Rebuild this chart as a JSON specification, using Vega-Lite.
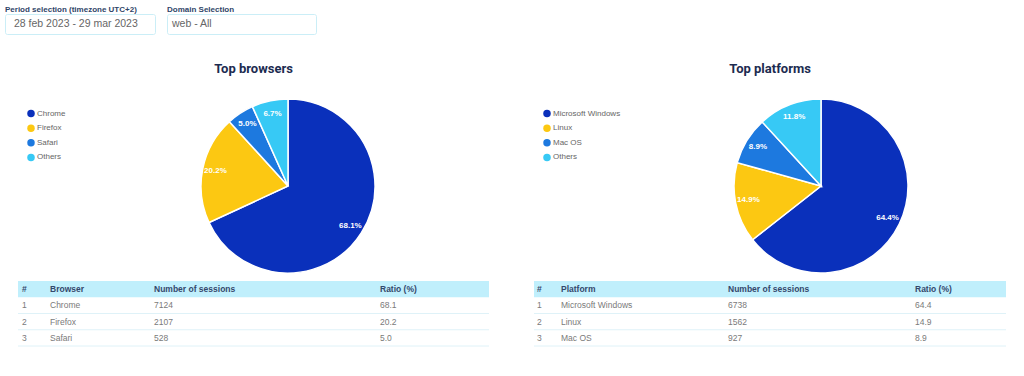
{
  "$schema": "https://vega.github.io/schema/vega-lite/v6.json",
  "background": "white",
  "padding": {"left": 4, "top": 5, "right": 0, "bottom": 0},
  "config": {
    "view": {"stroke": null},
    "font": "Liberation Sans",
    "title": {"font": "Liberation Sans"}
  },
  "resolve": {"scale": {"color": "independent"}, "legend": {"color": "independent"}},
  "datasets": {
    "filters": [
      {"filter": "Period selection (timezone UTC+2)", "value": "28 feb 2023 - 29 mar 2023"},
      {"filter": "Domain Selection", "value": "web - All"}
    ],
    "browsers": [
      {"browser": "Chrome", "sessions": 7124, "share": 0.681, "rank": 1},
      {"browser": "Firefox", "sessions": 2107, "share": 0.202, "rank": 2},
      {"browser": "Safari", "sessions": 528, "share": 0.050, "rank": 3},
      {"browser": "Others", "sessions": 702, "share": 0.067, "rank": 4}
    ],
    "platforms": [
      {"platform": "Microsoft Windows", "sessions": 6738, "share": 0.644, "rank": 1},
      {"platform": "Linux", "sessions": 1562, "share": 0.149, "rank": 2},
      {"platform": "Mac OS", "sessions": 927, "share": 0.089, "rank": 3},
      {"platform": "Others", "sessions": 1236, "share": 0.118, "rank": 4}
    ],
    "browserTable": [
      {"row": "h", "col": "#", "text": "#"},
      {"row": "h", "col": "name", "text": "Browser"},
      {"row": "h", "col": "sessions", "text": "Number of sessions"},
      {"row": "h", "col": "ratio", "text": "Ratio (%)"},
      {"row": "1", "col": "#", "text": "1"},
      {"row": "1", "col": "name", "text": "Chrome"},
      {"row": "1", "col": "sessions", "text": "7124"},
      {"row": "1", "col": "ratio", "text": "68.1"},
      {"row": "2", "col": "#", "text": "2"},
      {"row": "2", "col": "name", "text": "Firefox"},
      {"row": "2", "col": "sessions", "text": "2107"},
      {"row": "2", "col": "ratio", "text": "20.2"},
      {"row": "3", "col": "#", "text": "3"},
      {"row": "3", "col": "name", "text": "Safari"},
      {"row": "3", "col": "sessions", "text": "528"},
      {"row": "3", "col": "ratio", "text": "5.0"}
    ],
    "platformTable": [
      {"row": "h", "col": "#", "text": "#"},
      {"row": "h", "col": "name", "text": "Platform"},
      {"row": "h", "col": "sessions", "text": "Number of sessions"},
      {"row": "h", "col": "ratio", "text": "Ratio (%)"},
      {"row": "1", "col": "#", "text": "1"},
      {"row": "1", "col": "name", "text": "Microsoft Windows"},
      {"row": "1", "col": "sessions", "text": "6738"},
      {"row": "1", "col": "ratio", "text": "64.4"},
      {"row": "2", "col": "#", "text": "2"},
      {"row": "2", "col": "name", "text": "Linux"},
      {"row": "2", "col": "sessions", "text": "1562"},
      {"row": "2", "col": "ratio", "text": "14.9"},
      {"row": "3", "col": "#", "text": "3"},
      {"row": "3", "col": "name", "text": "Mac OS"},
      {"row": "3", "col": "sessions", "text": "927"},
      {"row": "3", "col": "ratio", "text": "8.9"}
    ]
  },
  "spacing": 28,
  "vconcat": [
    {
      "spacing": 10,
      "hconcat": [
        {
          "width": 150, "height": 20,
          "view": {"stroke": "#cbeef7", "cornerRadius": 2},
          "title": {"text": "Period selection (timezone UTC+2)", "anchor": "start", "fontSize": 8, "fontWeight": "bold", "color": "#2f4568", "offset": 0},
          "data": {"name": "filters"},
          "transform": [{"filter": "datum.filter === 'Period selection (timezone UTC+2)'"}],
          "mark": {"type": "text", "align": "left", "baseline": "middle", "dx": 9, "fontSize": 10.5, "color": "#666666"},
          "encoding": {
            "text": {"field": "value"},
            "x": {"datum": 0, "type": "quantitative", "scale": {"domain": [0, 1]}, "axis": null}
          }
        },
        {
          "width": 149, "height": 20,
          "view": {"stroke": "#cbeef7", "cornerRadius": 2},
          "title": {"text": "Domain Selection", "anchor": "start", "fontSize": 8, "fontWeight": "bold", "color": "#2f4568", "offset": 0},
          "data": {"name": "filters"},
          "transform": [{"filter": "datum.filter === 'Domain Selection'"}],
          "mark": {"type": "text", "align": "left", "baseline": "middle", "dx": 5, "fontSize": 10.5, "color": "#666666"},
          "encoding": {
            "text": {"field": "value"},
            "x": {"datum": 0, "type": "quantitative", "scale": {"domain": [0, 1]}, "axis": null}
          }
        }
      ]
    },
    {
      "spacing": 11,
      "resolve": {"scale": {"color": "independent"}, "legend": {"color": "independent"}},
      "hconcat": [
        {
          "width": 1, "height": 1,
          "data": {"values": []},
          "mark": {"type": "rule"},
          "encoding": {}
        },
        {
          "spacing": 43,
          "resolve": {"scale": {"color": "independent"}, "legend": {"color": "independent"}},
          "hconcat": [
            {
              "title": {"text": "Top browsers", "anchor": "middle", "font": "Roboto", "fontSize": 13, "fontWeight": "bold", "color": "#1c2b50", "offset": 20},
              "spacing": 5,
              "resolve": {"scale": {"color": "independent"}, "legend": {"color": "independent"}},
              "vconcat": [
                {
                  "spacing": 0,
                  "hconcat": [
                    {
                      "width": 180, "height": 73,
                      "data": {"name": "browsers"},
                      "encoding": {
                        "y": {"field": "browser", "type": "nominal", "scale": {"type": "point", "domain": ["Chrome", "Firefox", "Safari", "Others"], "padding": 1.165}, "axis": null},
                        "x": {"datum": 0, "type": "quantitative", "scale": {"domain": [0, 1]}, "axis": null}
                      },
                      "layer": [
                        {
                          "mark": {"type": "circle", "size": 56, "opacity": 1, "xOffset": 13},
                          "encoding": {"color": {"field": "browser", "type": "nominal", "scale": {"domain": ["Chrome", "Firefox", "Safari", "Others"], "range": ["#0a30bb", "#fcc812", "#1d79df", "#37c9f5"]}, "legend": null}}
                        },
                        {
                          "mark": {"type": "text", "align": "left", "baseline": "middle", "dx": 19, "fontSize": 8, "color": "#666666"},
                          "encoding": {"text": {"field": "browser"}}
                        }
                      ]
                    },
                    {
                      "width": 174, "height": 174,
                      "data": {"name": "browsers"},
                      "encoding": {
                        "theta": {"field": "sessions", "type": "quantitative", "stack": true},
                        "order": {"field": "rank", "type": "quantitative"},
                        "color": {
                          "field": "browser", "type": "nominal",
                          "scale": {"domain": ["Chrome", "Firefox", "Safari", "Others"], "range": ["#0a30bb", "#fcc812", "#1d79df", "#37c9f5"]},
                          "legend": null
                        }
                      },
                      "layer": [
                        {"mark": {"type": "arc", "stroke": "white", "strokeWidth": 1.5}},
                        {
                          "mark": {"type": "text", "radius": 74, "fontSize": 8, "fontWeight": "bold"},
                          "encoding": {"text": {"field": "share", "type": "quantitative", "format": ".1%"}, "color": {"value": "white"}}
                        }
                      ]
                    }
                  ]
                },
                {
                  "spacing": 0,
                  "bounds": "flush",
                  "hconcat": [
                    {
                      "width": 28, "height": 65,
                      "data": {"name": "browserTable"},
                      "transform": [{"filter": "datum.col === '#'"}],
                      "encoding": {"y": {"field": "row", "type": "nominal", "scale": {"domain": ["h", "1", "2", "3"], "paddingInner": 0, "paddingOuter": 0}, "axis": null}},
                      "layer": [
                        {"transform": [{"filter": "datum.row === 'h'"}], "mark": {"type": "rect", "fill": "#c0effc"}},
                        {"transform": [{"filter": "datum.row !== 'h'"}], "mark": {"type": "rule", "color": "#dff2f8"}, "encoding": {"y": {"field": "row", "type": "nominal", "bandPosition": 1}}},
                        {"transform": [{"filter": "datum.row === 'h'"}], "mark": {"type": "text", "align": "left", "baseline": "middle", "dx": 4, "fontSize": 8.5, "fontWeight": "bold", "color": "#34486c"}, "encoding": {"text": {"field": "text"}, "x": {"datum": 0, "type": "quantitative", "scale": {"domain": [0, 1]}, "axis": null}}},
                        {"transform": [{"filter": "datum.row !== 'h'"}], "mark": {"type": "text", "align": "left", "baseline": "middle", "dx": 4, "fontSize": 8.5, "color": "#7a7a7a"}, "encoding": {"text": {"field": "text"}, "x": {"datum": 0, "type": "quantitative", "scale": {"domain": [0, 1]}, "axis": null}}}
                      ]
                    },
                    {
                      "width": 104, "height": 65,
                      "data": {"name": "browserTable"},
                      "transform": [{"filter": "datum.col === 'name'"}],
                      "encoding": {"y": {"field": "row", "type": "nominal", "scale": {"domain": ["h", "1", "2", "3"], "paddingInner": 0, "paddingOuter": 0}, "axis": null}},
                      "layer": [
                        {"transform": [{"filter": "datum.row === 'h'"}], "mark": {"type": "rect", "fill": "#c0effc"}},
                        {"transform": [{"filter": "datum.row !== 'h'"}], "mark": {"type": "rule", "color": "#dff2f8"}, "encoding": {"y": {"field": "row", "type": "nominal", "bandPosition": 1}}},
                        {"transform": [{"filter": "datum.row === 'h'"}], "mark": {"type": "text", "align": "left", "baseline": "middle", "dx": 4, "fontSize": 8.5, "fontWeight": "bold", "color": "#34486c"}, "encoding": {"text": {"field": "text"}, "x": {"datum": 0, "type": "quantitative", "scale": {"domain": [0, 1]}, "axis": null}}},
                        {"transform": [{"filter": "datum.row !== 'h'"}], "mark": {"type": "text", "align": "left", "baseline": "middle", "dx": 4, "fontSize": 8.5, "color": "#7a7a7a"}, "encoding": {"text": {"field": "text"}, "x": {"datum": 0, "type": "quantitative", "scale": {"domain": [0, 1]}, "axis": null}}}
                      ]
                    },
                    {
                      "width": 226, "height": 65,
                      "data": {"name": "browserTable"},
                      "transform": [{"filter": "datum.col === 'sessions'"}],
                      "encoding": {"y": {"field": "row", "type": "nominal", "scale": {"domain": ["h", "1", "2", "3"], "paddingInner": 0, "paddingOuter": 0}, "axis": null}},
                      "layer": [
                        {"transform": [{"filter": "datum.row === 'h'"}], "mark": {"type": "rect", "fill": "#c0effc"}},
                        {"transform": [{"filter": "datum.row !== 'h'"}], "mark": {"type": "rule", "color": "#dff2f8"}, "encoding": {"y": {"field": "row", "type": "nominal", "bandPosition": 1}}},
                        {"transform": [{"filter": "datum.row === 'h'"}], "mark": {"type": "text", "align": "left", "baseline": "middle", "dx": 4, "fontSize": 8.5, "fontWeight": "bold", "color": "#34486c"}, "encoding": {"text": {"field": "text"}, "x": {"datum": 0, "type": "quantitative", "scale": {"domain": [0, 1]}, "axis": null}}},
                        {"transform": [{"filter": "datum.row !== 'h'"}], "mark": {"type": "text", "align": "left", "baseline": "middle", "dx": 4, "fontSize": 8.5, "color": "#7a7a7a"}, "encoding": {"text": {"field": "text"}, "x": {"datum": 0, "type": "quantitative", "scale": {"domain": [0, 1]}, "axis": null}}}
                      ]
                    },
                    {
                      "width": 113, "height": 65,
                      "data": {"name": "browserTable"},
                      "transform": [{"filter": "datum.col === 'ratio'"}],
                      "encoding": {"y": {"field": "row", "type": "nominal", "scale": {"domain": ["h", "1", "2", "3"], "paddingInner": 0, "paddingOuter": 0}, "axis": null}},
                      "layer": [
                        {"transform": [{"filter": "datum.row === 'h'"}], "mark": {"type": "rect", "fill": "#c0effc"}},
                        {"transform": [{"filter": "datum.row !== 'h'"}], "mark": {"type": "rule", "color": "#dff2f8"}, "encoding": {"y": {"field": "row", "type": "nominal", "bandPosition": 1}}},
                        {"transform": [{"filter": "datum.row === 'h'"}], "mark": {"type": "text", "align": "left", "baseline": "middle", "dx": 4, "fontSize": 8.5, "fontWeight": "bold", "color": "#34486c"}, "encoding": {"text": {"field": "text"}, "x": {"datum": 0, "type": "quantitative", "scale": {"domain": [0, 1]}, "axis": null}}},
                        {"transform": [{"filter": "datum.row !== 'h'"}], "mark": {"type": "text", "align": "left", "baseline": "middle", "dx": 4, "fontSize": 8.5, "color": "#7a7a7a"}, "encoding": {"text": {"field": "text"}, "x": {"datum": 0, "type": "quantitative", "scale": {"domain": [0, 1]}, "axis": null}}}
                      ]
                    }
                  ]
                }
              ]
            },
            {
              "title": {"text": "Top platforms", "anchor": "middle", "font": "Roboto", "fontSize": 13, "fontWeight": "bold", "color": "#1c2b50", "offset": 20},
              "spacing": 5,
              "resolve": {"scale": {"color": "independent"}, "legend": {"color": "independent"}},
              "vconcat": [
                {
                  "spacing": 0,
                  "hconcat": [
                    {
                      "width": 197, "height": 73,
                      "data": {"name": "platforms"},
                      "encoding": {
                        "y": {"field": "platform", "type": "nominal", "scale": {"type": "point", "domain": ["Microsoft Windows", "Linux", "Mac OS", "Others"], "padding": 1.165}, "axis": null},
                        "x": {"datum": 0, "type": "quantitative", "scale": {"domain": [0, 1]}, "axis": null}
                      },
                      "layer": [
                        {
                          "mark": {"type": "circle", "size": 56, "opacity": 1, "xOffset": 13},
                          "encoding": {"color": {"field": "platform", "type": "nominal", "scale": {"domain": ["Microsoft Windows", "Linux", "Mac OS", "Others"], "range": ["#0a30bb", "#fcc812", "#1d79df", "#37c9f5"]}, "legend": null}}
                        },
                        {
                          "mark": {"type": "text", "align": "left", "baseline": "middle", "dx": 19, "fontSize": 8, "color": "#666666"},
                          "encoding": {"text": {"field": "platform"}}
                        }
                      ]
                    },
                    {
                      "width": 174, "height": 174,
                      "data": {"name": "platforms"},
                      "encoding": {
                        "theta": {"field": "sessions", "type": "quantitative", "stack": true},
                        "order": {"field": "rank", "type": "quantitative"},
                        "color": {
                          "field": "platform", "type": "nominal",
                          "scale": {"domain": ["Microsoft Windows", "Linux", "Mac OS", "Others"], "range": ["#0a30bb", "#fcc812", "#1d79df", "#37c9f5"]},
                          "legend": null
                        }
                      },
                      "layer": [
                        {"mark": {"type": "arc", "stroke": "white", "strokeWidth": 1.5}},
                        {
                          "mark": {"type": "text", "radius": 74, "fontSize": 8, "fontWeight": "bold"},
                          "encoding": {"text": {"field": "share", "type": "quantitative", "format": ".1%"}, "color": {"value": "white"}}
                        }
                      ]
                    }
                  ]
                },
                {
                  "spacing": 0,
                  "bounds": "flush",
                  "hconcat": [
                    {
                      "width": 23, "height": 65,
                      "data": {"name": "platformTable"},
                      "transform": [{"filter": "datum.col === '#'"}],
                      "encoding": {"y": {"field": "row", "type": "nominal", "scale": {"domain": ["h", "1", "2", "3"], "paddingInner": 0, "paddingOuter": 0}, "axis": null}},
                      "layer": [
                        {"transform": [{"filter": "datum.row === 'h'"}], "mark": {"type": "rect", "fill": "#c0effc"}},
                        {"transform": [{"filter": "datum.row !== 'h'"}], "mark": {"type": "rule", "color": "#dff2f8"}, "encoding": {"y": {"field": "row", "type": "nominal", "bandPosition": 1}}},
                        {"transform": [{"filter": "datum.row === 'h'"}], "mark": {"type": "text", "align": "left", "baseline": "middle", "dx": 3, "fontSize": 8.5, "fontWeight": "bold", "color": "#34486c"}, "encoding": {"text": {"field": "text"}, "x": {"datum": 0, "type": "quantitative", "scale": {"domain": [0, 1]}, "axis": null}}},
                        {"transform": [{"filter": "datum.row !== 'h'"}], "mark": {"type": "text", "align": "left", "baseline": "middle", "dx": 3, "fontSize": 8.5, "color": "#7a7a7a"}, "encoding": {"text": {"field": "text"}, "x": {"datum": 0, "type": "quantitative", "scale": {"domain": [0, 1]}, "axis": null}}}
                      ]
                    },
                    {
                      "width": 167, "height": 65,
                      "data": {"name": "platformTable"},
                      "transform": [{"filter": "datum.col === 'name'"}],
                      "encoding": {"y": {"field": "row", "type": "nominal", "scale": {"domain": ["h", "1", "2", "3"], "paddingInner": 0, "paddingOuter": 0}, "axis": null}},
                      "layer": [
                        {"transform": [{"filter": "datum.row === 'h'"}], "mark": {"type": "rect", "fill": "#c0effc"}},
                        {"transform": [{"filter": "datum.row !== 'h'"}], "mark": {"type": "rule", "color": "#dff2f8"}, "encoding": {"y": {"field": "row", "type": "nominal", "bandPosition": 1}}},
                        {"transform": [{"filter": "datum.row === 'h'"}], "mark": {"type": "text", "align": "left", "baseline": "middle", "dx": 4, "fontSize": 8.5, "fontWeight": "bold", "color": "#34486c"}, "encoding": {"text": {"field": "text"}, "x": {"datum": 0, "type": "quantitative", "scale": {"domain": [0, 1]}, "axis": null}}},
                        {"transform": [{"filter": "datum.row !== 'h'"}], "mark": {"type": "text", "align": "left", "baseline": "middle", "dx": 4, "fontSize": 8.5, "color": "#7a7a7a"}, "encoding": {"text": {"field": "text"}, "x": {"datum": 0, "type": "quantitative", "scale": {"domain": [0, 1]}, "axis": null}}}
                      ]
                    },
                    {
                      "width": 187, "height": 65,
                      "data": {"name": "platformTable"},
                      "transform": [{"filter": "datum.col === 'sessions'"}],
                      "encoding": {"y": {"field": "row", "type": "nominal", "scale": {"domain": ["h", "1", "2", "3"], "paddingInner": 0, "paddingOuter": 0}, "axis": null}},
                      "layer": [
                        {"transform": [{"filter": "datum.row === 'h'"}], "mark": {"type": "rect", "fill": "#c0effc"}},
                        {"transform": [{"filter": "datum.row !== 'h'"}], "mark": {"type": "rule", "color": "#dff2f8"}, "encoding": {"y": {"field": "row", "type": "nominal", "bandPosition": 1}}},
                        {"transform": [{"filter": "datum.row === 'h'"}], "mark": {"type": "text", "align": "left", "baseline": "middle", "dx": 4, "fontSize": 8.5, "fontWeight": "bold", "color": "#34486c"}, "encoding": {"text": {"field": "text"}, "x": {"datum": 0, "type": "quantitative", "scale": {"domain": [0, 1]}, "axis": null}}},
                        {"transform": [{"filter": "datum.row !== 'h'"}], "mark": {"type": "text", "align": "left", "baseline": "middle", "dx": 4, "fontSize": 8.5, "color": "#7a7a7a"}, "encoding": {"text": {"field": "text"}, "x": {"datum": 0, "type": "quantitative", "scale": {"domain": [0, 1]}, "axis": null}}}
                      ]
                    },
                    {
                      "width": 95, "height": 65,
                      "data": {"name": "platformTable"},
                      "transform": [{"filter": "datum.col === 'ratio'"}],
                      "encoding": {"y": {"field": "row", "type": "nominal", "scale": {"domain": ["h", "1", "2", "3"], "paddingInner": 0, "paddingOuter": 0}, "axis": null}},
                      "layer": [
                        {"transform": [{"filter": "datum.row === 'h'"}], "mark": {"type": "rect", "fill": "#c0effc"}},
                        {"transform": [{"filter": "datum.row !== 'h'"}], "mark": {"type": "rule", "color": "#dff2f8"}, "encoding": {"y": {"field": "row", "type": "nominal", "bandPosition": 1}}},
                        {"transform": [{"filter": "datum.row === 'h'"}], "mark": {"type": "text", "align": "left", "baseline": "middle", "dx": 4, "fontSize": 8.5, "fontWeight": "bold", "color": "#34486c"}, "encoding": {"text": {"field": "text"}, "x": {"datum": 0, "type": "quantitative", "scale": {"domain": [0, 1]}, "axis": null}}},
                        {"transform": [{"filter": "datum.row !== 'h'"}], "mark": {"type": "text", "align": "left", "baseline": "middle", "dx": 4, "fontSize": 8.5, "color": "#7a7a7a"}, "encoding": {"text": {"field": "text"}, "x": {"datum": 0, "type": "quantitative", "scale": {"domain": [0, 1]}, "axis": null}}}
                      ]
                    }
                  ]
                }
              ]
            }
          ]
        }
      ]
    }
  ]
}
